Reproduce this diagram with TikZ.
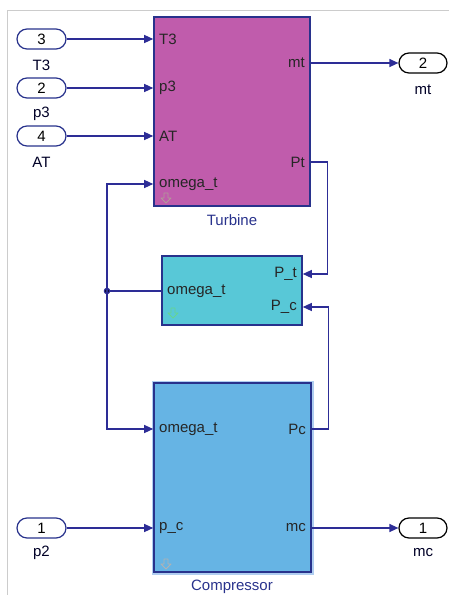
\documentclass[tikz,border=0pt]{standalone}
\usepackage{fontspec}
\setmainfont{Liberation Sans}
\usepackage{xcolor}
\usetikzlibrary{arrows.meta,positioning,shapes.misc}

\definecolor{wire}{RGB}{45,45,150}
\definecolor{edge}{RGB}{40,50,140}
\definecolor{turbfill}{RGB}{192,92,172}
\definecolor{midfill}{RGB}{88,200,215}
\definecolor{compfill}{RGB}{102,180,228}
\definecolor{glow}{RGB}{175,205,240}
\definecolor{icon}{RGB}{150,200,180}

\newcommand{\downicon}[2]{% hollow down arrow in a block corner
  \draw[#2, line width=0.9pt, line join=round] (#1) ++(-2,-6) -- ++(4,0) -- ++(0,5) -- ++(3,0) -- ++(-5,5) -- ++(-5,-5) -- ++(3,0) -- cycle;}

\begin{document}
\begin{tikzpicture}[x=1pt, y=-1pt,
      font=\fontsize{15}{17}\selectfont,
      blk/.style={draw=edge, line width=1.6pt, inner sep=0pt},
      inport/.style={rounded rectangle, draw=edge, line width=1.2pt, minimum width=49pt, minimum height=20pt, inner sep=0pt},
      outport/.style={rounded rectangle, draw=black, line width=1.2pt, minimum width=48pt, minimum height=20pt, inner sep=0pt},
      plab/.style={text=black!85!blue, inner sep=1pt},
      pin/.style={text=black!85, inner sep=1pt},
      wire/.style={draw=wire, line width=1.3pt},
      arr/.style={wire, -{Triangle[length=9pt, width=8pt]}}]
    \useasboundingbox (0,0) rectangle (449,595);
    \draw[black!20, line width=1pt] (7,595) -- (7,10) -- (449,10);
    % turbine
    \node[blk, fill=turbfill, minimum width=156pt, minimum height=189pt] (turbine) at (232,111.5) {};
    \node[text=edge] (lturbine) at (232,220) {Turbine};
    \node[pin, anchor=west] (t-T3) at (158,39) {T3};
    \node[pin, anchor=west] (t-p3) at (158,88) {p3};
    \node[pin, anchor=west] (t-AT) at (158,136) {AT};
    \node[pin, anchor=west] (t-om) at (158,184) {omega\_t};
    \node[pin, anchor=east] (t-mt) at (306,63) {mt};
    \node[pin, anchor=east] (t-Pt) at (306,162) {Pt};
    \coordinate (t-ico) at (166,199);
    \downicon{t-ico}{draw=gray!60!pink}
    % power balance
    \node[blk, fill=midfill, minimum width=140pt, minimum height=69pt] (mid) at (232,290.5) {};
    \node[pin, anchor=west] (m-om) at (166,291) {omega\_t};
    \node[pin, anchor=east] (m-Pt) at (298,274) {P\_t};
    \node[pin, anchor=east] (m-Pc) at (298,307) {P\_c};
    \coordinate (m-ico) at (173,314);
    \downicon{m-ico}{draw=green!45!teal!60}
    % compressor
    \node[blk, fill=compfill, minimum width=157pt, minimum height=189pt,
          preaction={draw=glow, line width=5pt}] (comp) at (232.5,477.5) {};
    \node[text=edge] (lcomp) at (232,587) {Compressor};
    \node[pin, anchor=west] (c-om) at (158,429) {omega\_t};
    \node[pin, anchor=west] (c-pc) at (158,528) {p\_c};
    \node[pin, anchor=east] (c-Pc) at (307,429) {Pc};
    \node[pin, anchor=east] (c-mc) at (307,528) {mc};
    \coordinate (c-ico) at (166,565);
    \downicon{c-ico}{draw=gray!60}
    % inports and outports
    \foreach \n/\lab/\y in {3/T3/39, 2/p3/88, 4/AT/136} {
      \node[inport] (in-\lab) at (41.5,\y) {\n};
      \node[plab] at (41.5,\y+26) {\lab};
      \draw[arr] (in-\lab.east) -- (turbine.west |- in-\lab.east);
    }
    \node[inport] (in-p2) at (41.5,528) {1};
    \node[plab] (l-p2) at (41.5,553) {p2};
    \draw[arr] (in-p2.east) -- (comp.west |- in-p2.east);
    \node[outport] (out-mt) at (423,63) {2};
    \node[plab] (l-mt) at (423,90) {mt};
    \draw[arr] (turbine.east |- out-mt) -- (out-mt.west);
    \node[outport] (out-mc) at (423,528) {1};
    \node[plab] (l-mc) at (423,553) {mc};
    \draw[arr] (comp.east |- out-mc) -- (out-mc.west);
    % feedback wires
    \coordinate (split) at (107,291);
    \draw[wire] (mid.west |- m-om) -- (split);
    \fill[wire] (split) circle (2.6pt);
    \draw[arr] (split) |- (turbine.west |- t-om);
    \draw[arr] (split) |- (comp.west |- c-om);
    \draw[arr] (turbine.east |- t-Pt) -- ++(17,0) |- (mid.east |- m-Pt);
    \draw[arr] (comp.east |- c-Pc) -- ++(17,0) |- (mid.east |- m-Pc);
  \end{tikzpicture}
\end{document}
